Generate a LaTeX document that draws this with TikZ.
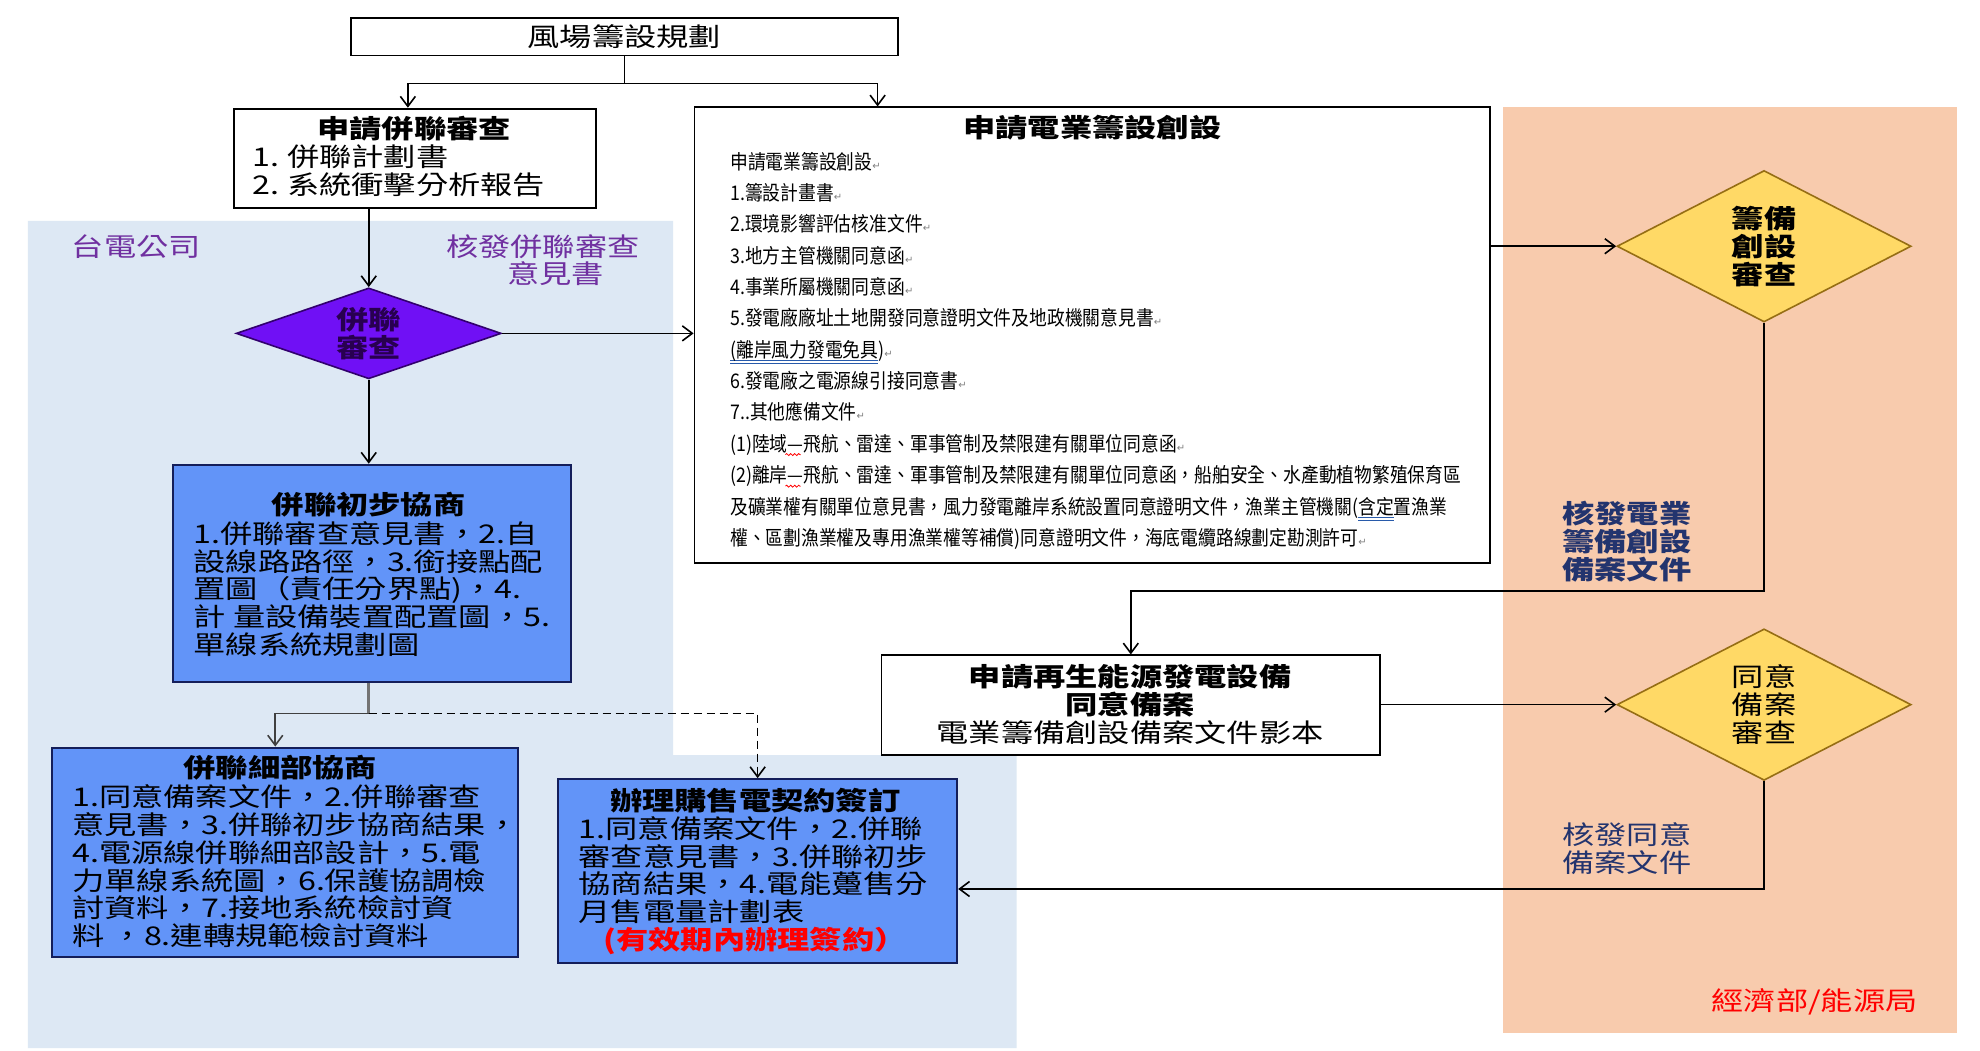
\documentclass[tikz,border=0pt]{standalone}
\usepackage{fontspec}
\setmainfont{Noto Sans CJK TC}
\newfontfamily\cjkwide{Noto Sans CJK TC}[FakeStretch=1.25]
\newfontfamily\cjknarrow{Noto Sans CJK TC}[FakeStretch=0.88]
\newfontfamily\dvsans{DejaVu Sans}
\usetikzlibrary{arrows.meta,shapes.geometric,calc,decorations.pathmorphing}

\newcommand\bigtxt{\cjkwide\fontsize{12.9pt}{13.9pt}\selectfont}
\newcommand\smalltxt{\cjknarrow\fontsize{10.1pt}{15.68pt}\selectfont}
\newcommand\parmark{{\dvsans\fontsize{5pt}{5pt}\selectfont\textcolor{gray}{↵}}}
\newsavebox\ulbox
\newcommand\blueuu[1]{\sbox\ulbox{#1}\rlap{\textcolor{bluell}{\rule[-2.0pt]{\wd\ulbox}{0.45pt}}}\rlap{\textcolor{bluell}{\rule[-3.2pt]{\wd\ulbox}{0.45pt}}}\usebox\ulbox}
\newcommand\ux{0.6314pt}

\definecolor{bgblue}{RGB}{221,232,244}
\definecolor{bgorange}{RGB}{248,203,173}
\definecolor{boxblue}{RGB}{98,148,248}
\definecolor{boxnavy}{RGB}{20,30,90}
\definecolor{purplefill}{RGB}{112,16,245}
\definecolor{purplebord}{RGB}{50,0,110}
\definecolor{purpletext}{RGB}{40,0,80}
\definecolor{yfill}{RGB}{255,217,102}
\definecolor{ybord}{RGB}{150,110,20}
\definecolor{labpurple}{RGB}{112,48,160}
\definecolor{navylab}{RGB}{35,52,110}
\definecolor{bluell}{RGB}{40,90,170}

\begin{document}
\begin{tikzpicture}[x=0.6314pt, y=-0.6314pt,
  wbox/.style={draw=black, fill=white, line width=0.9pt, rectangle, inner sep=0pt},
  bbox/.style={draw=boxnavy, fill=boxblue, line width=1pt, rectangle, inner sep=0pt},
  ydia/.style={diamond, draw=ybord, fill=yfill, line width=0.8pt, inner sep=0pt,
               minimum width=233*\ux, minimum height=120*\ux},
  plain/.style={line width=0.8pt, draw=black},
  arr/.style={line width=0.8pt, draw=black, -{Straight Barb[length=5pt,width=7.5pt]}},
  txt/.style={font=\bigtxt, inner sep=0pt},
  btxt/.style={font={\bigtxt\bfseries}, inner sep=0pt},
  body/.style={font=\bigtxt, inner sep=0pt, anchor=west, align=left},
  squig/.style={draw=red, line width=0.4pt, decorate,
                decoration={snake, amplitude=0.5pt, segment length=2pt}}
]
\fill[white] (0,0) rectangle (1568,832);
\useasboundingbox (0,0) rectangle (1568,832);

% backgrounds
\fill[bgblue] (22,175) -- (533,175) -- (533,598) -- (805,598) -- (805,830) -- (22,830) -- cycle;
\fill[bgorange] (1190,85) rectangle (1550,818);

% top
\node[wbox, minimum width=433*\ux, minimum height=30*\ux, font=\bigtxt] (top) at (494.5,29) {風場籌設規劃};

% apply
\node[wbox, minimum width=287*\ux, minimum height=79*\ux] (apply) at (328.5,125.5) {};
\node[btxt] (applyT) at (328,102) {申請併聯審查};
\node[body] (applyL) at (200,135) {1.\ 併聯計劃書\\2.\ 系統衝擊分析報告};

% purple diamond
\node[diamond, draw=purplebord, fill=purplefill, line width=0.8pt, inner sep=0pt,
      minimum width=210*\ux, minimum height=72*\ux] (d1) at (292,264) {};
\node[btxt, text=purpletext, align=center] (d1t) at (292,264) {併聯\\審查};

% labels left
\node[txt, text=labpurple] (tpc) at (108,195) {台電公司};
\node[txt, text=labpurple] (lab1a) at (430,195) {核發併聯審查};
\node[txt, text=labpurple] (lab1b) at (440,217) {意見書};

% elec box
\node[wbox, minimum width=630*\ux, minimum height=361*\ux] (elec) at (865,265.5) {};
\node[btxt] (elecT) at (865,101) {申請電業籌設創設};
\node[font=\smalltxt, anchor=north west, align=left, inner sep=0pt] (elecL) at (578,120) {%
申請電業籌設創設\parmark\\
1.籌設計畫書\parmark\\
2.環境影響評估核准文件\parmark\\
3.地方主管機關同意函\parmark\\
4.事業所屬機關同意函\parmark\\
5.發電廠廠址土地開發同意證明文件及地政機關意見書\parmark\\
\blueuu{(離岸風力發電免具}){\parmark}\\
6.發電廠之電源線引接同意書\parmark\\
7..其他應備文件\parmark\\
(1)陸域—飛航、雷達、軍事管制及禁限建有關單位同意函\parmark\\
(2)離岸—飛航、雷達、軍事管制及禁限建有關單位同意函，船舶安全、水產動植物繁殖保育區\\
及礦業權有關單位意見書，風力發電離岸系統設置同意證明文件，漁業主管機關(\blueuu{含定}置漁業\\
權、區劃漁業權及專用漁業權等補償)同意證明文件，海底電纜路線劃定勘測許可\parmark};
\coordinate (sq1a) at (622,360);
\coordinate (sq1b) at (634,360);
\coordinate (sq2a) at (622,385);
\coordinate (sq2b) at (634,385);
\draw[squig] (sq1a) -- (sq1b);
\draw[squig] (sq2a) -- (sq2b);

% yellow diamonds
\node[ydia] (y1) at (1397,195) {};
\node[btxt, align=center] (y1t) at (1397,195) {籌備\\創設\\審查};
\node[ydia] (y2) at (1397,558) {};
\node[txt, align=center] (y2t) at (1397,558) {同意\\備案\\審查};

% renew box
\node[wbox, minimum width=395*\ux, minimum height=79*\ux] (renew) at (895.5,558.5) {};
\node[btxt, align=center] (renewT) at (895,547) {申請再生能源發電設備\\同意備案};
\node[txt] (renewS) at (895,580) {電業籌備創設備案文件影本};

% navy labels
\node[btxt, text=navylab, anchor=west, align=left] (lab3) at (1237,429) {核發電業\\籌備創設\\備案文件};
\node[txt, text=navylab, anchor=west, align=left] (lab4) at (1237,672) {核發同意\\備案文件};
\node[txt, text=red] (moea) at (1437,793) {經濟部/能源局};

% blue boxes
\node[bbox, minimum width=315*\ux, minimum height=172*\ux] (b1) at (294.5,454) {};
\node[btxt] (b1T) at (292,400) {併聯初步協商};
\node[body] (b1L) at (153,466.5) {1.併聯審查意見書，2.自\\設線路路徑，3.銜接點配\\置圖（責任分界點)，4.\\計 量設備裝置配置圖，5.\\單線系統規劃圖};

\node[bbox, minimum width=369*\ux, minimum height=166*\ux] (b2) at (225.5,675) {};
\node[btxt] (b2T) at (222,608) {併聯細部協商};
\node[body] (b2L) at (57,686) {1.同意備案文件，2.併聯審查\\意見書，3.併聯初步協商結果，\\4.電源線併聯細部設計，5.電\\力單線系統圖，6.保護協調檢\\討資料，7.接地系統檢討資\\料 ，8.連轉規範檢討資料};

\node[bbox, minimum width=316*\ux, minimum height=146*\ux] (b3) at (600,690) {};
\node[btxt] (b3T) at (598,634) {辦理購售電契約簽訂};
\node[body] (b3L) at (458,689) {1.同意備案文件，2.併聯\\審查意見書，3.併聯初步\\協商結果，4.電能躉售分\\月售電量計劃表};
\node[btxt, text=red] (b3R) at (598,745) {(有效期內辦理簽約）};

% connectors
\coordinate (jc) at (494.5,66);
\coordinate (jl) at (323,66);
\coordinate (jr) at (695,66);
\draw[plain] (top.south) -- (jc);
\draw[plain] (jl) -- (jr);
\draw[arr] (jl) -- (jl |- apply.north);
\draw[arr] (jr) -- (jr |- elec.north);
\draw[arr] (apply.south -| d1.north) -- (d1.north);
\draw[arr] (d1.east) -- (d1.east -| elec.west);
\draw[arr] (d1.south) -- (d1.south |- b1.north);
\coordinate (j2) at (292,565);
\coordinate (a2) at (218,565);
\draw[line width=1.6pt, draw=black!55] (j2 |- b1.south) -- (j2);
\draw[arr, draw=black!75] (j2) -- (a2) -- (a2 |- b2.north);
\draw[arr, dash pattern=on 4pt off 2.5pt] (j2) -| (b3.north);
\draw[arr] (elec.east |- y1.west) -- (y1.west);
\coordinate (k1) at (1397,468);
\draw[arr] (y1.south) -- (k1) -| (renew.north);
\draw[arr] (renew.east |- y2.west) -- (y2.west);
\coordinate (k2) at (1397,704);
\draw[arr] (y2.south) -- (k2) -- (k2 -| b3.east);
\end{tikzpicture}
\end{document}
